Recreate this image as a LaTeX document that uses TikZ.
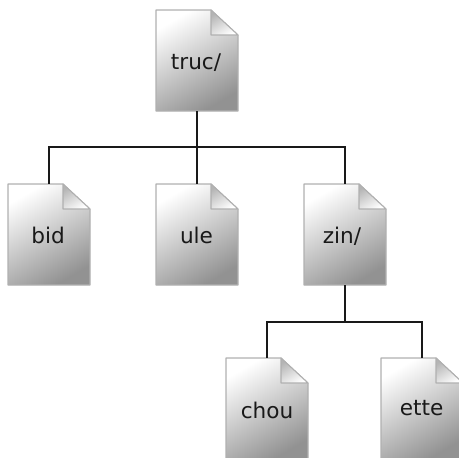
\documentclass[tikz,border=0pt]{standalone}
\usepackage{fontspec}
\setmainfont{DejaVu Sans}
\usetikzlibrary{calc}
\definecolor{docedge}{HTML}{B0B0B0}
\definecolor{docdark}{HTML}{929292}
\definecolor{folddark}{HTML}{B4B4B4}
\tikzset{
  x=0.75pt,y=-0.75pt,
  docbox/.style={minimum width=61.5pt,minimum height=75.75pt,inner sep=0pt,outer sep=0pt},
  doclabel/.style={inner sep=0pt,anchor=base,font=\fontsize{16.2pt}{18pt}\selectfont,text=black!90},
  docbody/.style={draw=docedge,line width=0.8pt,line join=round,shading=axis,top color=white,bottom color=docdark,shading angle=30},
  docfold/.style={draw=docedge,line width=0.8pt,line join=round,shading=axis,top color=folddark,bottom color=white,shading angle=30},
  link/.style={line width=1.9pt,draw=black!90}
}
% #1 name, #2 left, #3 top, #4 text, #5 baseline point relative to the top left corner
\newcommand{\filedoc}[5]{%
  \path[docbody] (#2,#3) -- ++(55,0) -- ++(27,25) -- ++(0,76) -- ++(-82,0) -- cycle;
  \path[docfold] ($(#2,#3)+(55,0)$) -- ++(27,25) -- ++(-27,0) -- cycle;
  \node[docbox] (#1) at ($(#2,#3)+(41,50.5)$) {};
  \node[doclabel] (#1label) at ($(#2,#3)+#5$) {#4};
}
\begin{document}
\begin{tikzpicture}
\useasboundingbox (0,0) rectangle (459,457);
\clip (0,0) rectangle (459,457);
\coordinate (j1) at (197,147);
\coordinate (j2) at (345,322);
\filedoc{truc}{156}{10}{truc/}{(40,59)}
\filedoc{bid}{8}{184}{bid}{(40,59)}
\filedoc{ule}{156}{184}{ule}{(40.5,59)}
\filedoc{zin}{304}{184}{zin/}{(38,59)}
\filedoc{chou}{226}{358}{chou}{(41,60)}
\filedoc{ette}{381}{358}{ette}{(40.7,57)}
\draw[link] (truc.south) -- (j1);
\draw[link] (j1) -| (bid.north);
\draw[link] (j1) -- (ule.north);
\draw[link] (j1) -| (zin.north);
\draw[link] (zin.south) -- (j2);
\draw[link] (j2) -| (chou.north);
\draw[link] (j2) -| (ette.north);
\end{tikzpicture}
\end{document}
